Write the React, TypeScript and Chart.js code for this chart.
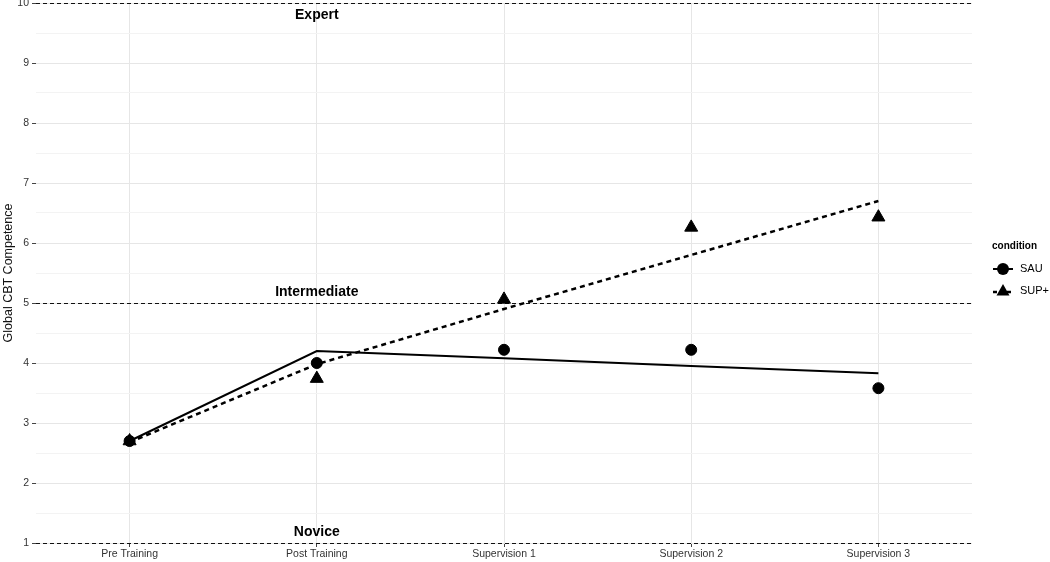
import React, { useEffect, useRef } from "react";
import { Chart, registerables } from "chart.js";

Chart.register(...registerables);

const categories = ["Pre Training", "Post Training", "Supervision 1", "Supervision 2", "Supervision 3"];
const sauObserved = [2.7, 4.0, 4.22, 4.22, 3.58];
const supObserved = [2.7, 3.74, 5.06, 6.26, 6.43];
const sauFitted = [2.7, 4.2, 4.08, 3.95, 3.83];
const supFitted = [2.68, 3.98, 4.9, 5.8, 6.7];
const refLineValues = [1, 5, 10];
const refLabels = ["Novice", "Intermediate", "Expert"];
const refLabelY = [1.18, 5.18, 9.8];
const refLabelCategory = "Post Training";
const legendTitle = "condition";
const seriesNames = ["SAU", "SUP+"];
const yTitle = "Global CBT Competence";

const FONT = "'Liberation Sans', Arial, sans-serif";

const overlayPlugin = {
  id: "overlay",
  beforeDatasetsDraw(chart: any) {
    const { ctx, chartArea, scales } = chart;
    const y = scales.y;
    const x = scales.x;
    ctx.save();
    ctx.strokeStyle = "#111";
    ctx.lineWidth = 1.2;
    ctx.setLineDash([4, 3]);
    refLineValues.forEach((v) => {
      const py = Math.round(y.getPixelForValue(v)) + 0.5;
      ctx.beginPath();
      ctx.moveTo(chartArea.left, py);
      ctx.lineTo(chartArea.right, py);
      ctx.stroke();
    });
    ctx.setLineDash([]);
    ctx.fillStyle = "#000";
    ctx.font = `bold 14px ${FONT}`;
    ctx.textAlign = "center";
    ctx.textBaseline = "middle";
    const px = x.getPixelForValue(categories.indexOf(refLabelCategory));
    refLabels.forEach((t, i) => {
      ctx.fillText(t, px, y.getPixelForValue(refLabelY[i]));
    });
    ctx.restore();
  },
  afterDraw(chart: any) {
    const { ctx, chartArea } = chart;
    ctx.save();
    const lx = chartArea.right + 20;
    ctx.fillStyle = "#000";
    ctx.font = `bold 10px ${FONT}`;
    ctx.textAlign = "left";
    ctx.textBaseline = "middle";
    ctx.fillText(legendTitle, lx, 246);
    const keyCx = lx + 11;
    const rows = [269, 291];
    ctx.font = `11px ${FONT}`;
    ctx.strokeStyle = "#000";
    ctx.lineWidth = 2;
    ctx.beginPath();
    ctx.moveTo(keyCx - 10, rows[0]);
    ctx.lineTo(keyCx + 10, rows[0]);
    ctx.stroke();
    ctx.beginPath();
    ctx.arc(keyCx, rows[0], 6, 0, Math.PI * 2);
    ctx.fill();
    ctx.fillText(seriesNames[0], lx + 28, rows[0]);
    ctx.setLineDash([4, 3]);
    ctx.lineWidth = 2.5;
    ctx.beginPath();
    ctx.moveTo(keyCx - 10, rows[1] + 1);
    ctx.lineTo(keyCx + 10, rows[1] + 1);
    ctx.stroke();
    ctx.setLineDash([]);
    ctx.beginPath();
    ctx.moveTo(keyCx, rows[1] - 7);
    ctx.lineTo(keyCx + 6.5, rows[1] + 4.5);
    ctx.lineTo(keyCx - 6.5, rows[1] + 4.5);
    ctx.closePath();
    ctx.fill();
    ctx.fillText(seriesNames[1], lx + 28, rows[1]);
    ctx.restore();
  },
};

export default function App() {
  const ref = useRef<HTMLCanvasElement | null>(null);
  useEffect(() => {
    if (!ref.current) return;
    const chart = new Chart(ref.current, {
      type: "line",
      data: {
        labels: categories,
        datasets: [
          {
            label: "SAU fitted",
            data: sauFitted,
            borderColor: "#000",
            borderWidth: 2,
            pointRadius: 0,
            fill: false,
            tension: 0,
          },
          {
            label: "SUP+ fitted",
            data: supFitted,
            borderColor: "#000",
            borderWidth: 2.5,
            borderDash: [5, 4],
            pointRadius: 0,
            fill: false,
            tension: 0,
          },
          {
            label: seriesNames[0],
            data: sauObserved,
            showLine: false,
            pointStyle: "circle",
            pointRadius: 5.5,
            pointBorderWidth: 1,
            pointBackgroundColor: "#000",
            pointBorderColor: "#000",
          },
          {
            label: seriesNames[1],
            data: supObserved,
            showLine: false,
            pointStyle: "triangle",
            pointRadius: 7.5,
            pointBorderWidth: 1,
            pointBackgroundColor: "#000",
            pointBorderColor: "#000",
          },
        ],
      },
      options: {
        responsive: false,
        animation: false,
        layout: { autoPadding: false, padding: { top: 3, right: 78, left: 0, bottom: 0 } },
        plugins: { legend: { display: false }, tooltip: { enabled: false } },
        scales: {
          x: {
            offset: true,
            border: { display: false },
            grid: {
              color: "#e6e6e6",
              tickColor: "#444",
              tickLength: 4,
              offset: false,
            },
            ticks: {
              color: "#333",
              font: { family: FONT, size: 10.5 },
              padding: 1,
              maxRotation: 0,
              autoSkip: false,
            },
            afterFit(scale: any) {
              scale.height = 19;
              scale.paddingLeft = 0;
              scale.paddingRight = 0;
            },
          },
          y: {
            min: 1,
            max: 10,
            border: { display: false },
            grid: {
              color: (c: any) => (Number.isInteger(c.tick?.value) ? "#e6e6e6" : "#f3f3f3"),
              tickColor: (c: any) => (Number.isInteger(c.tick?.value) ? "#444" : "rgba(0,0,0,0)"),
              tickLength: 4,
            },
            ticks: {
              stepSize: 0.5,
              autoSkip: false,
              color: "#333",
              font: { family: FONT, size: 10.5 },
              padding: 3,
              callback: (v: any) => (Number.isInteger(v) ? String(v) : ""),
            },
            title: {
              display: true,
              text: yTitle,
              color: "#111",
              font: { family: FONT, size: 12.5 },
              padding: { top: 1, bottom: 0 },
            },
            afterFit(scale: any) {
              scale.width = 36;
              scale.paddingTop = 0;
              scale.paddingBottom = 0;
            },
          },
        },
      },
      plugins: [overlayPlugin],
    });
    return () => chart.destroy();
  }, []);
  return (
    <div style={{ position: "absolute", left: 0, top: 0, width: 1050, height: 562, background: "#fff" }}>
      <canvas ref={ref} width={1050} height={562} />
    </div>
  );
}
